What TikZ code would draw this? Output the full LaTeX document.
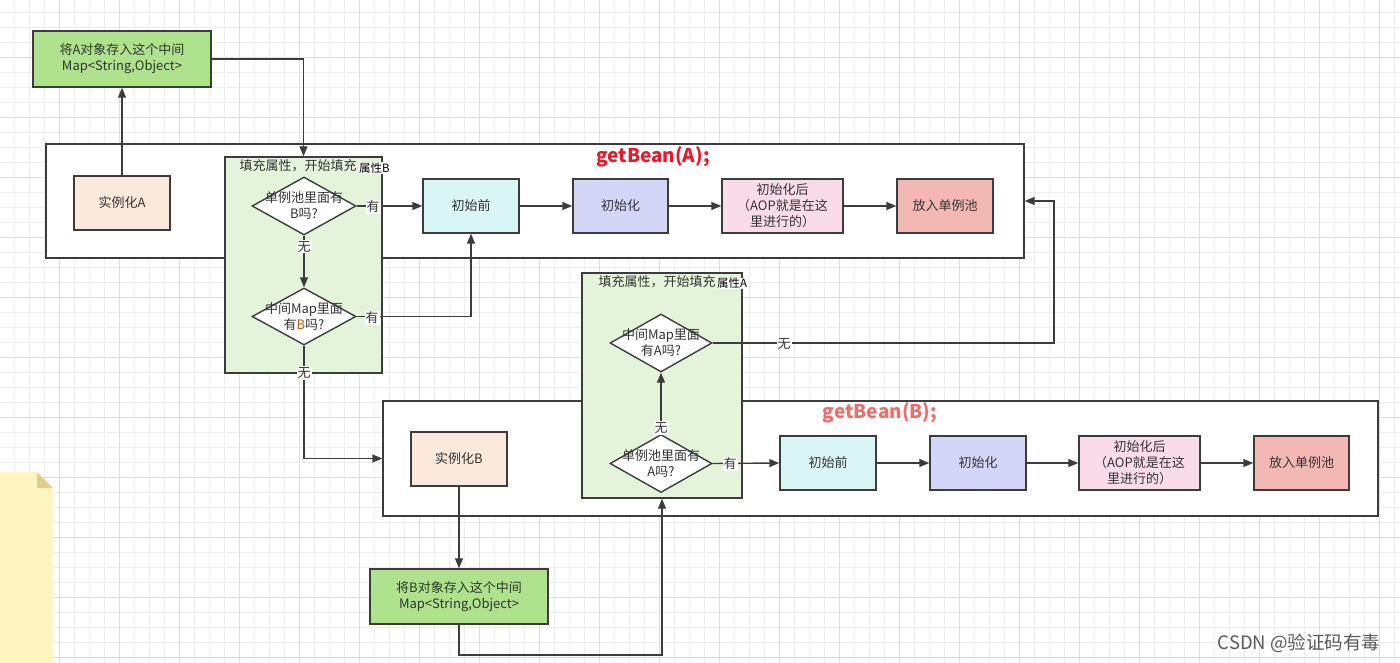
\documentclass[tikz,border=0pt]{standalone}
\usepackage{fontspec}
\setmainfont{Noto Sans CJK SC}
\usetikzlibrary{arrows.meta,shapes.geometric}
\definecolor{txt}{HTML}{333333}
\definecolor{edgec}{HTML}{3C3C3C}
\definecolor{gridmin}{HTML}{EDEDED}
\definecolor{gridmaj}{HTML}{DEDEDE}
\definecolor{mapgreen}{HTML}{AEE28C}
\definecolor{regiongreen}{HTML}{E3F4DA}
\definecolor{peach}{HTML}{FBE9DB}
\definecolor{cyanbox}{HTML}{DAF5F5}
\definecolor{lavbox}{HTML}{D4D6F8}
\definecolor{pinkbox}{HTML}{F9DBEA}
\definecolor{salmonbox}{HTML}{F4B8B4}
\definecolor{stickyc}{HTML}{FFF5C0}
\definecolor{foldc}{HTML}{E2CE8E}
\definecolor{redA}{HTML}{E8192C}
\definecolor{redB}{HTML}{EF6D6D}
\definecolor{orangeB}{HTML}{B85C00}
\tikzset{
  every node/.style={font=\fontsize{13}{16}\selectfont, text=txt},
  box/.style={draw=edgec, line width=1.4pt, rectangle, inner sep=0pt, align=center},
  cont/.style={draw=edgec, line width=1.4pt, fill=white, rectangle, inner sep=0pt},
  region/.style={draw=edgec, line width=1.4pt, fill=regiongreen, rectangle, inner sep=0pt},
  dia/.style={draw=edgec, line width=1.4pt, diamond, fill=white, inner sep=0pt},
  dtext/.style={align=center, inner sep=0pt},
  arr/.style={draw=edgec, line width=1.4pt, -{Triangle[length=10pt,width=8pt]}},
  elab/.style={fill=white, inner sep=1pt},
  tag/.style={fill=white, text=black, inner sep=0.5pt, font=\fontsize{11.5}{13}\selectfont},
  minorgrid/.style={draw=gridmin, line width=1pt},
  majorgrid/.style={draw=gridmaj, line width=1pt},
}
\begin{document}
\begin{tikzpicture}[x=1pt,y=-1pt]
\useasboundingbox (0,0) rectangle (1400,663);
\fill[white] (0,0) rectangle (1400,663);
% grid
\foreach \i in {0,...,92} {\draw[minorgrid] ({14.3+15*\i},0) -- ({14.3+15*\i},663);}
\foreach \j in {0,...,43} {\draw[minorgrid] (0,{12.3+15*\j}) -- (1400,{12.3+15*\j});}
\foreach \i in {0,...,22} {\draw[majorgrid] ({59.3+60*\i},0) -- ({59.3+60*\i},663);}
\foreach \j in {0,...,10} {\draw[majorgrid] (0,{57.3+60*\j}) -- (1400,{57.3+60*\j});}
% sticky note
\fill[stickyc] (0,472) -- (37,472) -- (53,488) -- (53,663) -- (0,663) -- cycle;
\fill[foldc] (37,472) -- (37,488) -- (53,488) -- cycle;

% containers
\node[cont, minimum width=978pt, minimum height=114pt] (bigA) at (535,201) {};
\node[cont, minimum width=995pt, minimum height=115pt] (bigB) at (880.5,458.5) {};
\node[region, minimum width=157pt, minimum height=216pt] (greenA) at (303.5,265) {};
\node[region, minimum width=160pt, minimum height=225pt] (greenB) at (662,385.5) {};

% titles
\node[font=\bfseries\fontsize{19}{22}\selectfont, text=redA] (titleA) at (653,157) {getBean(A);};
\node[font=\bfseries\fontsize{19}{22}\selectfont, text=redB] (titleB) at (880,413) {getBean(B);};
\node (fillA) at (298,166) {填充属性，开始填充};
\node[tag] (tagA) at (374.5,168) {属性B};
\node (fillB) at (657,282) {填充属性，开始填充};
\node[tag] (tagB) at (732,283.5) {属性A};

% row A
\node[box, fill=mapgreen, minimum width=178pt, minimum height=56pt] (mapA) at (122,59) {将A对象存入这个中间\\Map<String,Object>};
\node[box, fill=peach, minimum width=96pt, minimum height=54pt] (ia) at (122,203) {实例化A};
\node[dia, minimum width=104pt, minimum height=58pt] (dA1) at (304,206) {};
\node[dtext] (dA1t) at (dA1) {单例池里面有\\B吗?};
\node[dia, minimum width=104pt, minimum height=57pt] (dA2) at (304,316.5) {};
\node[dtext] (dA2t) at (dA2) {中间Map里面\\有\textcolor{orangeB}{B}吗?};
\node[box, fill=cyanbox, minimum width=96pt, minimum height=54pt] (qA) at (471,206) {初始前};
\node[box, fill=lavbox, minimum width=95pt, minimum height=54pt] (cA) at (620.5,206) {初始化};
\node[box, fill=pinkbox, minimum width=121pt, minimum height=54pt] (hA) at (782.5,206) {初始化后\\（AOP就是在这\\里进行的）};
\node[box, fill=salmonbox, minimum width=96pt, minimum height=54pt] (pA) at (945,206) {放入单例池};

% row B
\node[box, fill=peach, minimum width=96pt, minimum height=54pt] (ib) at (459,459) {实例化B};
\node[dia, minimum width=102pt, minimum height=58pt] (dB1) at (661,343) {};
\node[dtext] (dB1t) at (dB1) {中间Map里面\\有A吗?};
\node[dia, minimum width=102pt, minimum height=58pt] (dB2) at (661,463.5) {};
\node[dtext] (dB2t) at (dB2) {单例池里面有\\A吗?};
\node[box, fill=cyanbox, minimum width=96pt, minimum height=54pt] (qB) at (828,463) {初始前};
\node[box, fill=lavbox, minimum width=96pt, minimum height=54pt] (cB) at (978,463) {初始化};
\node[box, fill=pinkbox, minimum width=121pt, minimum height=54pt] (hB) at (1139.5,463) {初始化后\\（AOP就是在这\\里进行的）};
\node[box, fill=salmonbox, minimum width=95pt, minimum height=54pt] (pB) at (1301.5,463) {放入单例池};
\node[box, fill=mapgreen, minimum width=178pt, minimum height=55pt] (mapB) at (459,596.5) {将B对象存入这个中间\\Map<String,Object>};

% helper coordinates
\coordinate (cR) at (1054,201);
\coordinate (cBot) at (459,655);

% connectors
\draw[arr] (ia.north) -- (mapA.south);
\draw[arr] (mapA.east) -| (greenA.north);
\draw[arr] (dA1.east) -- (qA.west);
\draw[arr] (dA1.south) -- (dA2.north);
\draw[arr] (dA2.east) -| (qA.south);
\draw[arr] (dA2.south) |- (bigB.west);
\draw[arr] (qA.east) -- (cA.west);
\draw[arr] (cA.east) -- (hA.west);
\draw[arr] (hA.east) -- (pA.west);
\draw[arr] (dB2.north) -- (dB1.south);
\draw[arr] (dB2.east) -- (qB.west);
\draw[arr] (dB1.east) -| (cR) -- (bigA.east);
\draw[arr] (qB.east) -- (cB.west);
\draw[arr] (cB.east) -- (hB.west);
\draw[arr] (hB.east) -- (pB.west);
\draw[arr] (ib.south) -- (mapB.north);
\draw[arr] (mapB.south) -- (cBot) -| (greenB.south);

% edge labels
\node[elab] (l1) at (373,207) {有};
\node[elab] (l2) at (304,246.5) {无};
\node[elab] (l3) at (372,318) {有};
\node[elab] (l4) at (304,373) {无};
\node[elab] (l5) at (661,428) {无};
\node[elab] (l6) at (730,464) {有};
\node[elab] (l7) at (784,343.5) {无};

% watermark
\node[font=\fontsize{18.5}{20}\selectfont, text=black!65] (wm) at (1299,643) {CSDN @验证码有毒};
\end{tikzpicture}
\end{document}
